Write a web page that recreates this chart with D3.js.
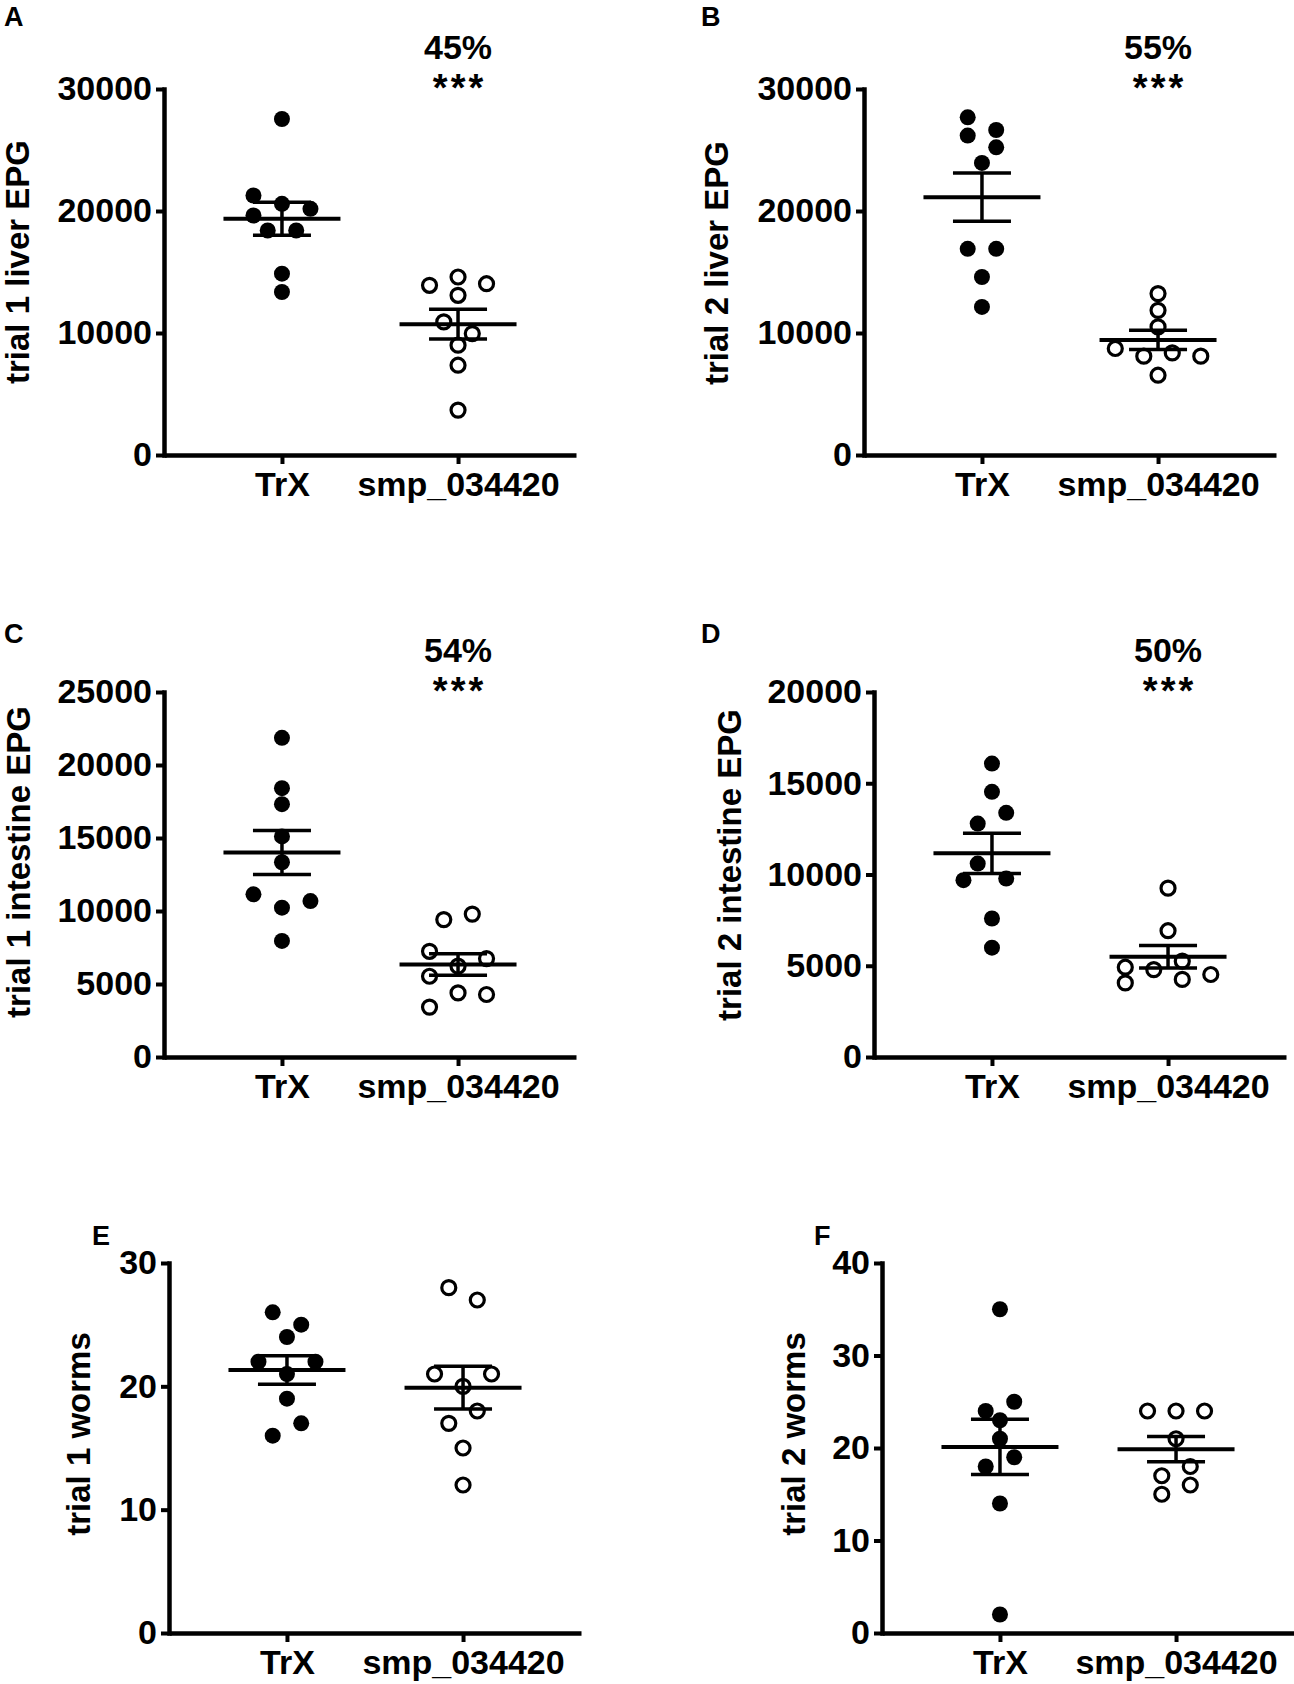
<!DOCTYPE html>
<html>
<head>
<meta charset="utf-8">
<script src="https://cdn.jsdelivr.net/npm/d3@7"></script>
<style>
  html, body { margin: 0; padding: 0; background: #fff; }
  svg { display: block; }
  text { font-family: "Liberation Sans", Arial, Helvetica, sans-serif; font-weight: bold; fill: #000; }
</style>
</head>
<body>
<script>
// ---------------- data ----------------
const categories = ["TrX", "smp_034420"];
const panelLetters = ["A", "B", "C", "D", "E", "F"];
const yTitles = [
  "trial 1 liver EPG", "trial 2 liver EPG",
  "trial 1 intestine EPG", "trial 2 intestine EPG",
  "trial 1 worms", "trial 2 worms"
];
const reductionLabels = ["45%", "55%", "54%", "50%", "", ""];
const significanceLabels = ["***", "***", "***", "***", "", ""];
const yMaxima = [30000, 30000, 25000, 20000, 30, 40];
const yTickSteps = [10000, 10000, 5000, 5000, 10, 10];

// values per group, in table order
const trxTrial1Liver = [27540, 21270, 20590, 20180, 19630, 18400, 18400, 14860, 13360];
const smpTrial1Liver = [13910, 14590, 14040, 13090, 10910, 9950, 9000, 7360, 3680];
const trxTrial2Liver = [27680, 26640, 26180, 25220, 23940, 16900, 16900, 14590, 12140];
const smpTrial2Liver = [13230, 11860, 10500, 8730, 8100, 8370, 8100, 6540];
const trxTrial1Intestine = [21860, 18410, 17320, 15110, 13340, 11140, 10230, 10680, 7950];
const smpTrial1Intestine = [9410, 9790, 7240, 6220, 6740, 5530, 3420, 4390, 4280];
const trxTrial2Intestine = [16080, 14530, 12790, 13380, 10600, 9690, 9780, 7590, 5990];
const smpTrial2Intestine = [9250, 6920, 4920, 4790, 5250, 4520, 4060, 4250];
const trxTrial1Worms = [26, 25, 24, 22, 21, 22, 19, 16, 17];
const smpTrial1Worms = [28, 27, 21, 20, 21, 17, 18, 15, 12];
const trxTrial2Worms = [35, 24, 25, 23, 21, 18, 19, 14, 2];
const smpTrial2Worms = [24, 24, 24, 21, 17, 18, 15, 16];

const groupValues = [
  [trxTrial1Liver, smpTrial1Liver],
  [trxTrial2Liver, smpTrial2Liver],
  [trxTrial1Intestine, smpTrial1Intestine],
  [trxTrial2Intestine, smpTrial2Intestine],
  [trxTrial1Worms, smpTrial1Worms],
  [trxTrial2Worms, smpTrial2Worms]
];

// ---------------- layout ----------------
const W = 1294, H = 1684;
const layout = [
  { axisX: 164, top: 89,   bottom: 455,  letterX: 4,   letterY: 26,   titleX: 29,  titleCY: 262 },
  { axisX: 864, top: 89,   bottom: 455,  letterX: 701, letterY: 26,   titleX: 728, titleCY: 263 },
  { axisX: 164, top: 692,  bottom: 1057, letterX: 4,   letterY: 643,  titleX: 30,  titleCY: 862 },
  { axisX: 874, top: 692,  bottom: 1057, letterX: 701, letterY: 643,  titleX: 741, titleCY: 865 },
  { axisX: 169, top: 1263, bottom: 1633, letterX: 92,  letterY: 1245, titleX: 90,  titleCY: 1434 },
  { axisX: 882, top: 1263, bottom: 1633, letterX: 814, letterY: 1245, titleX: 805, titleCY: 1434 }
];
const axisWidth = 412;
const slot = 28.5;       // horizontal spacing of scattered points
const rowTol = 15;       // px: points closer than this share a row
const hitDist = 15;      // px: minimal distance between point centres
const meanHalf = 58.5, semHalf = 29;
const labelFont = 34;

const svg = d3.select("body").append("svg")
  .attr("width", W).attr("height", H)
  .attr("viewBox", `0 0 ${W} ${H}`);
svg.append("rect").attr("width", W).attr("height", H).attr("fill", "#fff");

function swarm(values, y, cx) {
  const order = d3.range(values.length)
    .sort((a, b) => d3.descending(values[a], values[b]) || a - b);
  const placed = [];
  let k = 0;
  while (k < order.length) {
    const y0 = y(values[order[k]]);
    const row = [order[k]];
    let j = k + 1;
    while (j < order.length && Math.abs(y(values[order[j]]) - y0) < rowTol) { row.push(order[j]); j++; }
    row.sort((a, b) => a - b);
    row.forEach((idx, m) => {
      const py = y(values[idx]);
      let off = (m - (row.length - 1) / 2) * slot;
      const hits = o => placed.some(p => Math.hypot(p.x - (cx + o), p.y - py) < hitDist);
      if (hits(off)) {
        for (const st of [-1, 1, -2, 2]) {
          if (!hits(off + st * slot)) { off += st * slot; break; }
        }
      }
      placed.push({ x: cx + off, y: py, v: values[idx] });
    });
    k = j;
  }
  return placed;
}

panelLetters.forEach((letter, i) => {
  const L = layout[i];
  const g = svg.append("g");
  const y = d3.scaleLinear().domain([0, yMaxima[i]]).range([L.bottom, L.top]);
  const x = d3.scalePoint().domain(categories)
    .range([L.axisX, L.axisX + axisWidth]).padding(0.67);

  // panel letter
  g.append("text").attr("x", L.letterX).attr("y", L.letterY)
    .attr("font-size", 27).text(letter);

  // y title
  g.append("text")
    .attr("transform", `translate(${L.titleX},${L.titleCY}) rotate(-90)`)
    .attr("text-anchor", "middle").attr("font-size", 33)
    .text(yTitles[i]);

  // y axis
  const yAxis = g.append("g").attr("transform", `translate(${L.axisX},0)`)
    .call(d3.axisLeft(y)
      .tickValues(d3.range(0, yMaxima[i] + 1, yTickSteps[i]))
      .tickFormat(d3.format("d"))
      .tickSize(8).tickSizeOuter(0).tickPadding(4));
  yAxis.select(".domain").attr("stroke", "#000").attr("stroke-width", 4.5).attr("stroke-linecap", "square");
  yAxis.selectAll(".tick line").attr("stroke", "#000").attr("stroke-width", 4);
  yAxis.selectAll(".tick text")
    .attr("font-size", labelFont).attr("font-weight", "bold")
    .attr("font-family", '"Liberation Sans", Arial, sans-serif').attr("fill", "#000");

  // x axis
  const xAxis = g.append("g").attr("transform", `translate(0,${L.bottom})`)
    .call(d3.axisBottom(x).tickSize(9).tickSizeOuter(0).tickPadding(8));
  xAxis.select(".domain").attr("stroke", "#000").attr("stroke-width", 4.5);
  xAxis.selectAll(".tick line").attr("stroke", "#000").attr("stroke-width", 4);
  xAxis.selectAll(".tick text")
    .attr("font-size", labelFont).attr("font-weight", "bold")
    .attr("font-family", '"Liberation Sans", Arial, sans-serif').attr("fill", "#000");

  // reduction + significance annotation
  if (reductionLabels[i]) {
    const sx = x(categories[1]);
    g.append("text").attr("x", sx).attr("y", L.top - 30)
      .attr("text-anchor", "middle").attr("font-size", 34).text(reductionLabels[i]);
    g.append("text").attr("x", sx + 1.5).attr("y", L.top + 12)
      .attr("text-anchor", "middle").attr("font-size", 38)
      .attr("letter-spacing", 3).text(significanceLabels[i]);
  }

  // points + mean ± SEM
  categories.forEach((cat, ci) => {
    const vals = groupValues[i][ci];
    const cx = x(cat);
    const pts = swarm(vals, y, cx);
    const open = ci === 1;
    g.append("g").selectAll("circle").data(pts).join("circle")
      .attr("cx", d => d.x).attr("cy", d => d.y)
      .attr("r", open ? 7 : 8)
      .attr("fill", open ? "none" : "#000")
      .attr("stroke", open ? "#000" : "none")
      .attr("stroke-width", open ? 3.2 : 0);

    const m = d3.mean(vals);
    const se = d3.deviation(vals) / Math.sqrt(vals.length);
    const lg = g.append("g").attr("stroke", "#000");
    lg.append("line").attr("x1", cx - meanHalf).attr("x2", cx + meanHalf)
      .attr("y1", y(m)).attr("y2", y(m)).attr("stroke-width", 4);
    lg.append("line").attr("x1", cx).attr("x2", cx)
      .attr("y1", y(m - se)).attr("y2", y(m + se)).attr("stroke-width", 3.5);
    [m - se, m + se].forEach(v => {
      lg.append("line").attr("x1", cx - semHalf).attr("x2", cx + semHalf)
        .attr("y1", y(v)).attr("y2", y(v)).attr("stroke-width", 3.5);
    });
  });
});
</script>
</body>
</html>
